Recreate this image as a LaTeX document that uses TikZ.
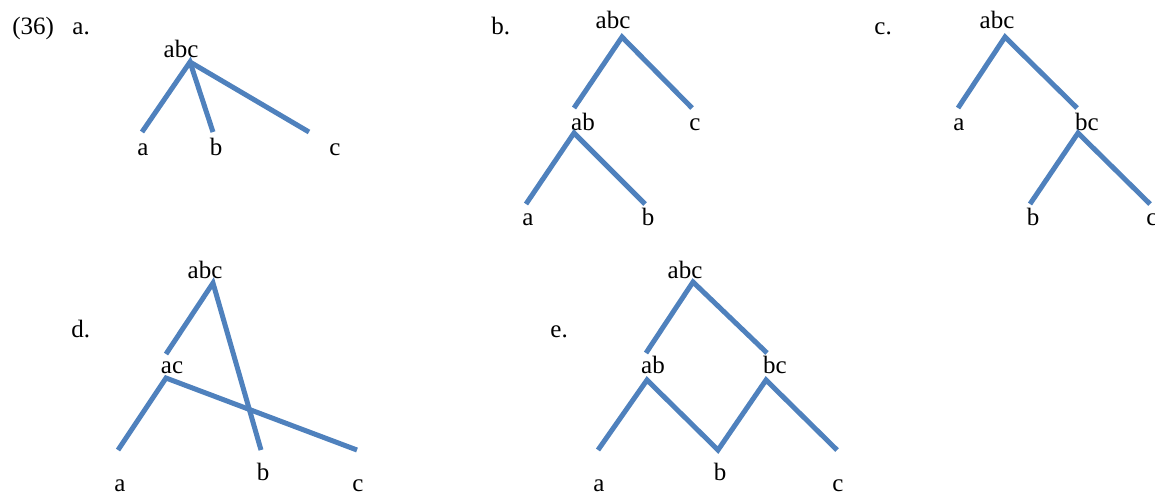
\documentclass[tikz,border=0pt]{standalone}
\usepackage{fontspec}
\setmainfont{Liberation Serif}
\definecolor{branchblue}{RGB}{79,129,189}
\tikzset{
  br/.style={draw=branchblue, line width=2.5pt},
  lbl/.style={font=\fontsize{12.5}{14}\selectfont, inner sep=0pt, anchor=base},
  tag/.style={lbl, anchor=base west},
}
\begin{document}
\begin{tikzpicture}[x=0.5pt,y=-0.5pt]
  \useasboundingbox (0,0) rectangle (1155,495);
  % example number and tree labels
  \node[tag] (num) at (12,34) {(36)};
  \node[tag] (ta) at (72,34) {a.};
  \node[tag] (tb) at (491,34) {b.};
  \node[tag] (tc) at (874,34) {c.};
  \node[tag] (td) at (71,337) {d.};
  \node[tag] (te) at (550,337) {e.};

  % tree a: flat
  \node[lbl] (aR) at (181,57) {abc};
  \node[lbl] (aA) at (143,155) {a};
  \node[lbl] (aB) at (216,155) {b};
  \node[lbl] (aC) at (335,155) {c};
  \coordinate (aR1) at (190,62);
  \coordinate (aA1) at (142,132);
  \coordinate (aB1) at (213,132);
  \coordinate (aC1) at (309,132);
  \draw[br] (aA1) -- (aR1) -- (aB1);
  \draw[br] (aR1) -- (aC1);

  % tree b: left branching
  \node[lbl] (bR) at (613,28) {abc};
  \node[lbl] (bAB) at (583,130) {ab};
  \node[lbl] (bC) at (695,130) {c};
  \node[lbl] (bA) at (528,225) {a};
  \node[lbl] (bB) at (648,225) {b};
  \coordinate (bR1) at (622,37);
  \coordinate (bAB0) at (574,108);
  \coordinate (bC1) at (692,108);
  \coordinate (bAB1) at (574,133);
  \coordinate (bA1) at (526,204);
  \coordinate (bB1) at (645,204);
  \draw[br] (bAB0) -- (bR1) -- (bC1);
  \draw[br] (bA1) -- (bAB1) -- (bB1);

  % tree c: right branching
  \node[lbl] (cR) at (997,28) {abc};
  \node[lbl] (cA) at (959,130) {a};
  \node[lbl] (cBC) at (1087,130) {bc};
  \node[lbl] (cB) at (1033,225) {b};
  \node[lbl] (cC) at (1152,225) {c};
  \coordinate (cR1) at (1005,37);
  \coordinate (cA1) at (958,108);
  \coordinate (cBC0) at (1077,108);
  \coordinate (cBC1) at (1078,133);
  \coordinate (cB1) at (1030,204);
  \coordinate (cC1) at (1150,204);
  \draw[br] (cA1) -- (cR1) -- (cBC0);
  \draw[br] (cB1) -- (cBC1) -- (cC1);

  % tree d: crossing branches
  \node[lbl] (dR) at (205,278) {abc};
  \node[lbl] (dAC) at (172,373) {ac};
  \node[lbl] (dB) at (263,480) {b};
  \node[lbl] (dA) at (120,491) {a};
  \node[lbl] (dC) at (358,491) {c};
  \coordinate (dR1) at (213,283);
  \coordinate (dAC0) at (166,354);
  \coordinate (dB1) at (261,450);
  \coordinate (dAC1) at (166,378);
  \coordinate (dA1) at (118,450);
  \coordinate (dC1) at (357,450);
  \draw[br] (dAC0) -- (dR1) -- (dB1);
  \draw[br] (dA1) -- (dAC1) -- (dC1);

  % tree e: shared daughter
  \node[lbl] (eR) at (685,278) {abc};
  \node[lbl] (eAB) at (653,373) {ab};
  \node[lbl] (eBC) at (775,373) {bc};
  \node[lbl] (eB) at (720,480) {b};
  \node[lbl] (eA) at (599,491) {a};
  \node[lbl] (eC) at (838,491) {c};
  \coordinate (eR1) at (693,282);
  \coordinate (eAB0) at (646,353);
  \coordinate (eBC0) at (767,353);
  \coordinate (eAB1) at (647,380);
  \coordinate (eBC1) at (766,380);
  \coordinate (eA1) at (598,450);
  \coordinate (eB1) at (718,450);
  \coordinate (eC1) at (837,450);
  \draw[br] (eAB0) -- (eR1) -- (eBC0);
  \draw[br] (eA1) -- (eAB1) -- (eB1) -- (eBC1) -- (eC1);
\end{tikzpicture}
\end{document}
